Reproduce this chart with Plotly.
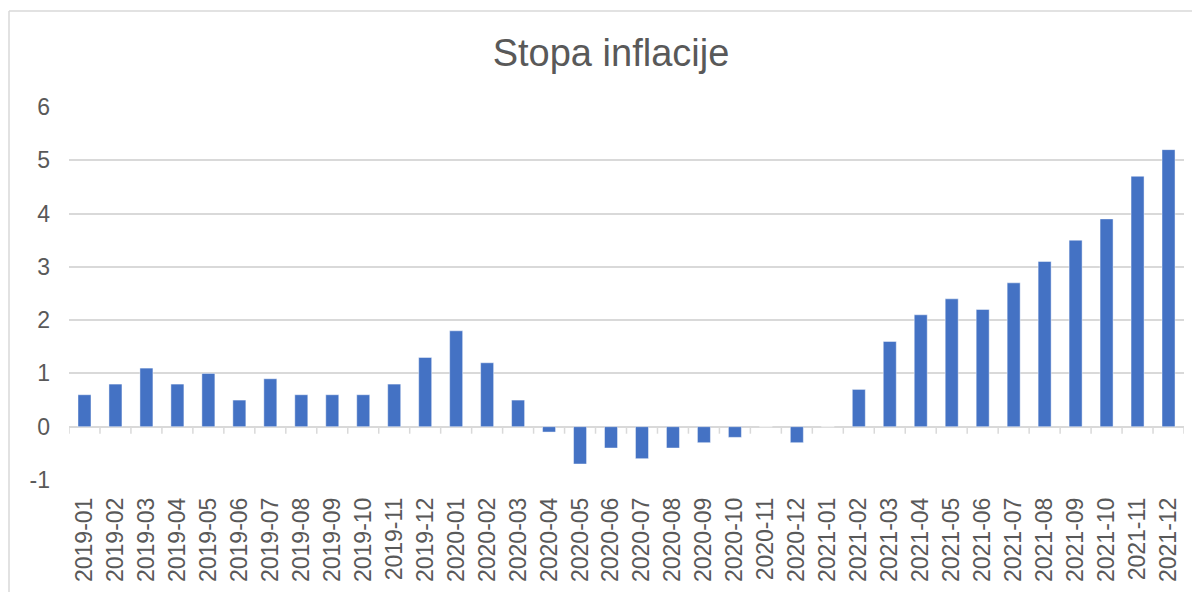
import plotly.graph_objects as go

months = ["2019-01","2019-02","2019-03","2019-04","2019-05","2019-06","2019-07","2019-08","2019-09","2019-10","2019-11","2019-12",
          "2020-01","2020-02","2020-03","2020-04","2020-05","2020-06","2020-07","2020-08","2020-09","2020-10","2020-11","2020-12",
          "2021-01","2021-02","2021-03","2021-04","2021-05","2021-06","2021-07","2021-08","2021-09","2021-10","2021-11","2021-12"]
inflation = [0.6, 0.8, 1.1, 0.8, 1.0, 0.5, 0.9, 0.6, 0.6, 0.6, 0.8, 1.3,
             1.8, 1.2, 0.5, -0.1, -0.7, -0.4, -0.6, -0.4, -0.3, -0.2, 0.0, -0.3,
             0.0, 0.7, 1.6, 2.1, 2.4, 2.2, 2.7, 3.1, 3.5, 3.9, 4.7, 5.2]
y_ticks = [-1, 0, 1, 2, 3, 4, 5, 6]
y_tick_text = ["-1", "0", "1", "2", "3", "4", "5", "6"]
title_text = "Stopa inflacije"

FONT = "Liberation Sans, Arial, sans-serif"
TXT = "#595959"
GRID = "#d9d9d9"

fig = go.Figure(go.Bar(
    x=months, y=inflation,
    marker=dict(color="#4472C4", line=dict(color="rgba(255,255,255,0.45)", width=1)),
    width=0.42,
))

# the page body adds an 8px offset; the figure is sized to fit the window
OFF = 8
W, H = 1200 - OFF, 592 - OFF
L, T = 69 - OFF, 107 - OFF
R = W - (1184 - OFF)
B = H - (480 - OFF)
pw = W - L - R
ph = H - T - B

shapes = []
shapes.append(dict(type="line", xref="x", yref="y", x0=-0.5, x1=len(months) - 0.5, y0=0, y1=0,
                   line=dict(color=GRID, width=1.5), layer="below"))
for i in range(len(months) + 1):
    shapes.append(dict(type="line", xref="x", yref="y", ysizemode="pixel", yanchor=0,
                       x0=i - 0.5, x1=i - 0.5, y0=0, y1=-7,
                       line=dict(color=GRID, width=1.5)))
# outer chart frame: only the left and top edges are inside the window
bx0 = (9 - OFF - L) / pw
by1 = 1 + (T - (11 - OFF)) / ph
shapes.append(dict(type="line", xref="paper", yref="paper", x0=bx0, x1=(W - L + 40) / pw, y0=by1, y1=by1,
                   line=dict(color=GRID, width=1.5), layer="below"))
shapes.append(dict(type="line", xref="paper", yref="paper", x0=bx0, x1=bx0, y0=-(B + 40) / ph, y1=by1,
                   line=dict(color=GRID, width=1.5), layer="below"))

fig.update_layout(
    width=W, height=H,
    margin=dict(l=L, r=R, t=T, b=B, autoexpand=False),
    paper_bgcolor="white", plot_bgcolor="white",
    title=dict(text=title_text, x=(611 - OFF) / W, xanchor="center", y=1 - (53 - OFF) / H, yanchor="middle",
               font=dict(family=FONT, size=38, color=TXT)),
    font=dict(family=FONT, color=TXT),
    showlegend=False,
    shapes=shapes,
    xaxis=dict(type="category", tickangle=-90, tickfont=dict(size=23, color=TXT, family=FONT),
               showgrid=False, showline=False, ticks="", ticklabelstandoff=12,
               range=[-0.5, len(months) - 0.5], fixedrange=True, automargin=False),
    yaxis=dict(range=[-1, 6], tickvals=y_ticks, ticktext=y_tick_text,
               tickfont=dict(size=23, color=TXT, family=FONT),
               showgrid=True, gridcolor=GRID, gridwidth=1.5, zeroline=False, showline=False,
               ticks="", ticklabelstandoff=18, fixedrange=True, automargin=False),
)

fig.write_html("out.html")
